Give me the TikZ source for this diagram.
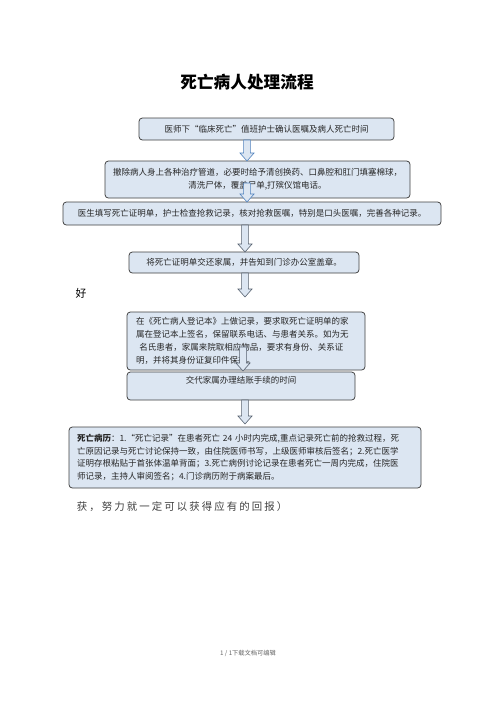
\documentclass[tikz,border=0pt]{standalone}
\usepackage{fontspec}
\setmainfont{Noto Sans CJK SC}
\definecolor{boxblue}{HTML}{DCE6F2}
\definecolor{arrowline}{HTML}{55606E}
\definecolor{blueline}{HTML}{4F81BD}
\newdimen\pxu \pxu=1.2pt

\begin{document}
\begin{tikzpicture}[x=1.2pt,y=-1.2pt,
  flow box/.style={rectangle,rounded corners=4pt,draw=black!75,line width=0.9pt,
    fill=boxblue,inner sep=0pt,text=black!85,font=\fontsize{10.2}{15.5}\selectfont},
  flow arrow/.style={draw=arrowline,fill=boxblue,line width=0.7pt,
    to path={([xshift=-4pt]\tikztostart) -- ([xshift=4pt]\tikztostart)
      -- ([xshift=4pt,yshift=9.6pt]\tikztotarget) -- ([xshift=8.5pt,yshift=9.6pt]\tikztotarget)
      -- (\tikztotarget) -- ([xshift=-8.5pt,yshift=9.6pt]\tikztotarget)
      -- ([xshift=-4pt,yshift=9.6pt]\tikztotarget) -- cycle}}]
  \useasboundingbox (0,0) rectangle (496,702);

  \node[font=\fontsize{20}{24}\selectfont\bfseries] (title) at (247,82) {死亡病人处理流程};

  \node[flow box,minimum width=255\pxu,minimum height=22\pxu] (1) at (266.5,129)
    {医师下“临床死亡”值班护士确认医嘱及病人死亡时间};
  \node[flow box,minimum width=305\pxu,minimum height=37\pxu,align=center] (2) at (257.5,179.5)
    {撤除病人身上各种治疗管道，必要时给予清创换药、口鼻腔和肛门填塞棉球，\\清洗尸体，覆盖尸单,打殡仪馆电话。};
  \node[flow box,minimum width=378\pxu,minimum height=23\pxu] (3) at (252,213.5)
    {医生填写死亡证明单，护士检查抢救记录，核对抢救医嘱，特别是口头医嘱，完善各种记录。};
  \node[flow box,minimum width=230\pxu,minimum height=21\pxu] (4) at (244,262.5)
    {将死亡证明单交还家属，并告知到门诊办公室盖章。};
  \node[font=\fontsize{13}{15}\selectfont] (hao) at (81,293) {好};
  \node[flow box,minimum width=238\pxu,minimum height=58\pxu,text width=220\pxu,align=left] (5) at (246,341)
    {在《死亡病人登记本》上做记录，要求取死亡证明单的家\\属在登记本上签名，保留联系电话、与患者关系。如为无\\\hspace{4pt}名氏患者，家属来院取相应物品，要求有身份、关系证\\明，并将其身份证复印件保存。};
  \node[flow box,minimum width=228\pxu,minimum height=28\pxu,align=center] (6) at (241,386)
    {交代家属办理结账手续的时间\\\mbox{}};
  \node[flow box,minimum width=352\pxu,minimum height=61\pxu,text width=336\pxu,align=left] (7) at (245,457.5)
    {{\bfseries 死亡病历}：1.“死亡记录”在患者死亡 24 小时内完成,重点记录死亡前的抢救过程，死\\亡原因记录与死亡讨论保持一致，由住院医师书写，上级医师审核后签名；2.死亡医学\\证明存根粘贴于首张体温单背面；3.死亡病例讨论记录在患者死亡一周内完成，住院医\\师记录，主持人审阅签名；4.门诊病历附于病案最后。};

  \node[anchor=west,text=black!75,font=\fontsize{12.5}{15}\selectfont\addfontfeature{LetterSpace=20}] (tail) at (74,507)
    {获，努力就一定可以获得应有的回报）};
  \node[text=black!60,font=\fontsize{7.5}{9}\selectfont] (page) at (248,653) {1 / 1下载文档可编辑};

  % block arrows
  \coordinate (a1s) at (247,140);  \coordinate (a1e) at (247,161);
  \coordinate (a2s) at (247,183);  \coordinate (a2e) at (247,202);
  \coordinate (a3s) at (245,225);  \coordinate (a3e) at (245,252);
  \coordinate (a4s) at (245,273);  \coordinate (a4e) at (245,297);
  \coordinate (a5s) at (243,347);  \coordinate (a5e) at (243,371);
  \coordinate (a6s) at (245,400);  \coordinate (a6e) at (245,424);
  \path
    (a1s) edge[flow arrow,draw=blueline] (a1e)
    (a2s) edge[flow arrow,draw=blueline] (a2e)
    (a3s) edge[flow arrow] (a3e)
    (a4s) edge[flow arrow] (a4e)
    (a5s) edge[flow arrow] (a5e)
    (a6s) edge[flow arrow] (a6e);
\end{tikzpicture}
\end{document}
